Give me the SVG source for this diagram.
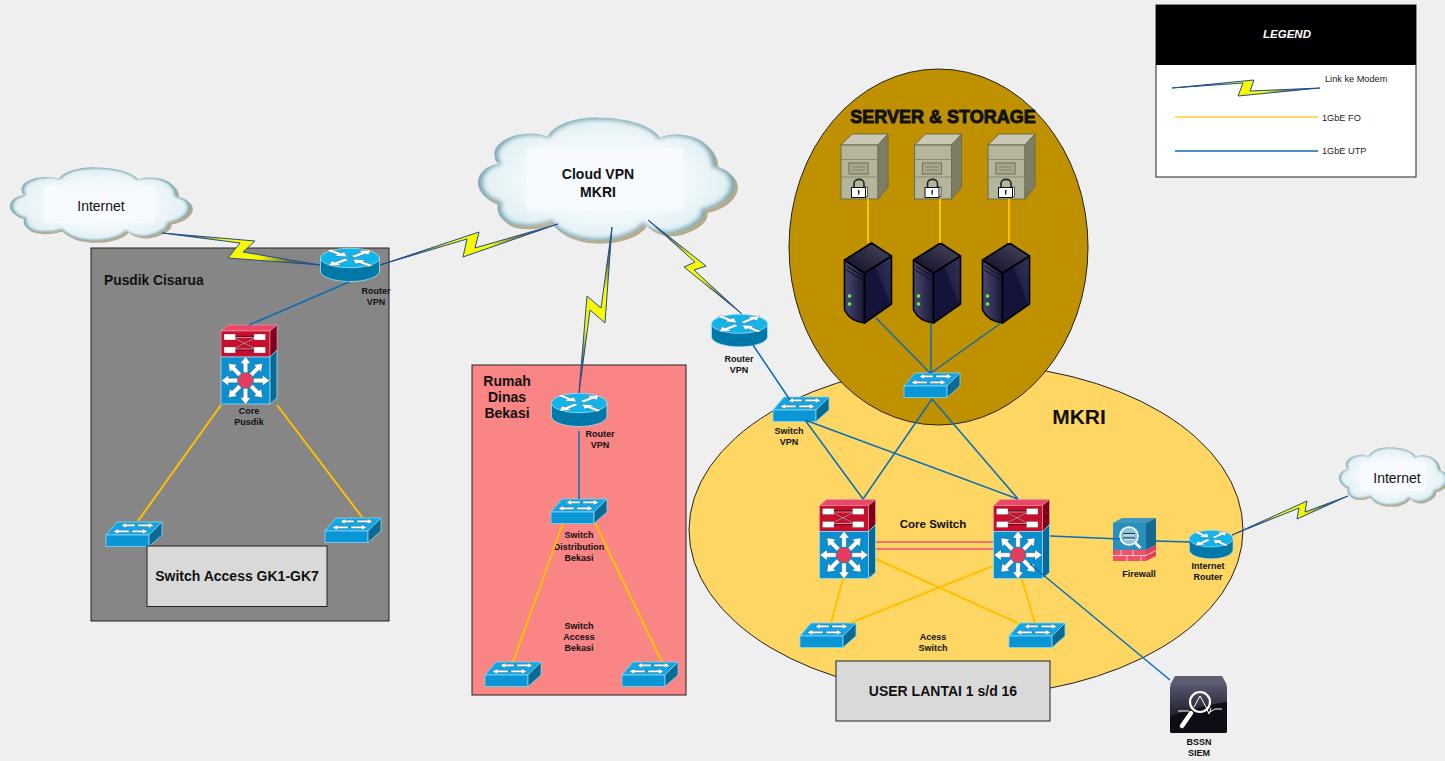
<svg xmlns="http://www.w3.org/2000/svg" xmlns:xlink="http://www.w3.org/1999/xlink" width="1445" height="761" viewBox="0 0 1445 761">
<style>
text{font-family:"Liberation Sans",Arial,sans-serif;fill:#111}
.s{font-size:9px;font-weight:bold;text-anchor:middle}
.m{font-size:14px;font-weight:bold;text-anchor:middle}
.r{font-size:14px;text-anchor:middle}
.l{font-size:9.2px;fill:#222}
.utp{stroke:#0a6db5;stroke-width:1.5;fill:none}
.fo{stroke:#ffc000;stroke-width:2;fill:none}
.core{stroke:#f0507a;stroke-width:1.5;fill:none}
.bolt{stroke:#1f4f8f;stroke-width:1;stroke-linejoin:miter}
.box{stroke:#222;stroke-width:1}
.a{fill:#fff;stroke:#222;stroke-width:.25}
</style>
<defs>
<linearGradient id="gh" x1="0" y1="0" x2="1" y2="0"><stop offset="0" stop-color="#1f4f8f"/><stop offset=".2" stop-color="#6f6f30"/><stop offset=".38" stop-color="#f8f800"/><stop offset=".62" stop-color="#f8f800"/><stop offset=".8" stop-color="#6f6f30"/><stop offset="1" stop-color="#1f4f8f"/></linearGradient>
<linearGradient id="gv" x1="0" y1="0" x2="0" y2="1"><stop offset="0" stop-color="#1f4f8f"/><stop offset=".2" stop-color="#6f6f30"/><stop offset=".38" stop-color="#f8f800"/><stop offset=".62" stop-color="#f8f800"/><stop offset=".8" stop-color="#6f6f30"/><stop offset="1" stop-color="#1f4f8f"/></linearGradient>
<linearGradient id="gd" x1="0" y1="0" x2="1" y2="1"><stop offset="0" stop-color="#1f4f8f"/><stop offset=".22" stop-color="#6f6f30"/><stop offset=".4" stop-color="#f8f800"/><stop offset=".6" stop-color="#f8f800"/><stop offset=".8" stop-color="#6f6f30"/><stop offset="1" stop-color="#1f4f8f"/></linearGradient>
<radialGradient id="cl" cx=".5" cy=".5" r=".62"><stop offset="0" stop-color="#f8fcff"/><stop offset=".55" stop-color="#f0f8fb"/><stop offset="1" stop-color="#d6e9f0"/></radialGradient>
<filter id="bl" x="-10%" y="-10%" width="120%" height="120%"><feGaussianBlur stdDeviation="6"/></filter>
<linearGradient id="ttop" x1="0" y1="1" x2="1" y2="0"><stop offset="0" stop-color="#0e0c24"/><stop offset="1" stop-color="#4a4960"/></linearGradient>
<linearGradient id="tl" x1="0" y1="0" x2="1" y2="0"><stop offset="0" stop-color="#4a4a70"/><stop offset="1" stop-color="#191838"/></linearGradient>
<linearGradient id="tr" x1="0" y1="1" x2="1" y2="0"><stop offset=".6" stop-color="#15133a"/><stop offset=".64" stop-color="#232248"/><stop offset="1" stop-color="#33325a"/></linearGradient>
<linearGradient id="sm" x1="0" y1="0" x2="0" y2="1"><stop offset="0" stop-color="#55566c"/><stop offset=".5" stop-color="#2a2b3a"/><stop offset="1" stop-color="#0e0e18"/></linearGradient>
<path id="cp" d="M75,140 C65,105 115,72 170,70 C195,68 215,72 232,78 C255,40 320,20 385,22 C470,22 545,45 567,82 C590,70 625,70 660,78 C705,90 735,125 733,168 C770,175 795,200 790,228 C785,262 745,290 700,298 C705,325 670,350 620,365 C585,375 535,360 520,338 C500,370 440,390 380,390 C320,390 265,370 240,332 C200,350 150,350 120,340 C90,325 78,305 85,275 C50,268 25,245 25,215 C25,190 50,165 85,160 C80,155 75,148 75,140 Z"/>
<symbol id="cloud" viewBox="25 20 775 380" preserveAspectRatio="none">
<use href="#cp" transform="translate(9,9)" fill="#b5a98a"/>
<use href="#cp" fill="#7fa9b4"/>
<use href="#cp" transform="translate(410,205) scale(.965) translate(-410,-205)" fill="url(#cl)" filter="url(#bl)"/>
<rect x="170" y="112" width="467" height="188" fill="#f7fbff" opacity=".9"/>
</symbol>
<polygon id="ao" class="a" points="-2.4,-4 2.4,-4 2.4,-17 6.5,-17 0,-27 -6.5,-17 -2.4,-17"/>
<polygon id="ai" class="a" points="-2.4,-27 2.4,-27 2.4,-14 6.5,-14 0,-4 -6.5,-14 -2.4,-14"/>
<g id="router">
<path d="M.5,10 V23 C.5,29 14,33.5 30,33.5 S59.5,29 59.5,23 V10 Z" fill="#0078a8" stroke="#a5e3f5" stroke-width=".8"/>
<ellipse cx="30" cy="10" rx="29.5" ry="9.7" fill="#12b4ea" stroke="#a5e3f5" stroke-width=".8"/>
<g transform="translate(30,10) scale(1.1,.42)">
<use href="#ao" transform="rotate(45)"/><use href="#ai" transform="rotate(135)"/><use href="#ao" transform="rotate(225)"/><use href="#ai" transform="rotate(315)"/>
</g>
</g>
<polygon id="sa" class="a" points="0,-1.1 10.5,-1.1 10.5,-2.6 16,0 10.5,2.6 10.5,1.1 0,1.1"/>
<g id="switch">
<polygon points="0,13 11,0 56,0 43,13" fill="#12a6e5" stroke="#7fd8f8" stroke-width=".8"/>
<rect x="0" y="13" width="43" height="11.5" fill="#0a95d5" stroke="#7fd8f8" stroke-width=".8"/>
<polygon points="43,13 56,0 56,13 43,24.5" fill="#0b6a94" stroke="#7fd8f8" stroke-width=".8"/>
<use href="#sa" transform="translate(32,3.4)"/><use href="#sa" transform="translate(29,3.4) scale(-.85,1)"/>
<use href="#sa" transform="translate(26,9.4)"/><use href="#sa" transform="translate(23,9.4) scale(-1,1)"/>
</g>
<polygon id="ca" class="a" points="-2.2,-8 2.2,-8 2.2,-17 5.2,-17 0,-24 -5.2,-17 -2.2,-17"/>
<g id="core">
<polygon points="0,6 7,0 56,0 49,6" fill="#e8486a" stroke="#f59ab0" stroke-width=".6"/>
<rect x="0" y="6" width="49" height="26" fill="#c8102e" stroke="#f59ab0" stroke-width=".6"/>
<polygon points="49,6 56,0 56,25 49,32" fill="#7d0018" stroke="#f59ab0" stroke-width=".6"/>
<path d="M14,11.5 H33 M14,25 H33 M14,12 L33,24.5 M14,24.5 L33,12" stroke="#6d0a1c" stroke-width="1.3" fill="none"/>
<path d="M14,12.5 H33 M14,24 H33 M14,13 L33,23.5 M14,23.5 L33,13" stroke="#fff" stroke-width=".5" fill="none"/>
<g fill="#fff" stroke="#444" stroke-width=".3"><rect x="3" y="9" width="11.5" height="6"/><rect x="33" y="9" width="11.5" height="6"/><rect x="3" y="22" width="11.5" height="6"/><rect x="33" y="22" width="11.5" height="6"/></g>
<rect x="0" y="32" width="49" height="47" fill="#0a8fd0" stroke="#8fdcf8" stroke-width=".8"/>
<polygon points="49,32 56,25 56,73 49,79" fill="#0b6a94" stroke="#8fdcf8" stroke-width=".8"/>
<g transform="translate(24.5,55.5)">
<use href="#ca"/><use href="#ca" transform="rotate(45)"/><use href="#ca" transform="rotate(90)"/><use href="#ca" transform="rotate(135)"/><use href="#ca" transform="rotate(180)"/><use href="#ca" transform="rotate(225)"/><use href="#ca" transform="rotate(270)"/><use href="#ca" transform="rotate(315)"/>
<circle r="7.5" fill="#e63d5e"/>
</g>
</g>
<g id="vault">
<polygon points="0,11 11,0 47,0 37,11" fill="#c8c8b5" stroke="#6c6c50"/>
<rect x="0" y="11" width="37" height="54" fill="#b5b59b" stroke="#6c6c50"/>
<polygon points="37,11 47,0 47,53 37,65" fill="#7e7e64" stroke="#6c6c50"/>
<path d="M0,25.5 H37 M0,43 H37" stroke="#8a8a70" stroke-width="1.2"/>
<rect x="8" y="29" width="19" height="11" fill="#a8a890" stroke="#77775e" stroke-width="1.2"/>
<path d="M11,33 H24 M11,36 H24" stroke="#77775e" stroke-width=".7"/>
<path d="M13,54 V49.5 C13,44 23,44 23,49.5 V54" fill="none" stroke="#222" stroke-width="1.6"/>
<rect x="24" y="53" width="2.5" height="9.5" fill="#fff" stroke="#222" stroke-width=".7"/>
<rect x="10.5" y="53.5" width="14" height="10" fill="#fff" stroke="#111" stroke-width="1"/>
<rect x="17" y="56" width="1.4" height="4.5" fill="#111"/>
</g>
<g id="tower">
<path d="M0,17 L20,30 V80 C11,79 4,75 0,67 Z" fill="url(#tl)" stroke="#000" stroke-width="1.6" stroke-linejoin="round"/>
<polygon points="20,30 47,13 47,61 20,80" fill="url(#tr)" stroke="#000" stroke-width="1.6" stroke-linejoin="round"/>
<polygon points="0,17 27,0 47,13 20,30" fill="url(#ttop)" stroke="#000" stroke-width="1.6" stroke-linejoin="round"/>
<path d="M2,23 L18,33 M2,27 L18,37" stroke="#0a0a18" stroke-width="1" fill="none"/>
<circle cx="5" cy="53" r="2.300" fill="#6ce06c" stroke="#223" stroke-width=".6"/><circle cx="5" cy="61" r="2.300" fill="#6ce06c" stroke="#223" stroke-width=".6"/>
</g>
</defs>

<rect id="background" width="1445" height="761" fill="#efefef"/>

<g id="region-pusdik"><rect class="box" x="91" y="248" width="298" height="373" fill="#868686"/>
<text x="104" y="285" style="font-size:13.8px;font-weight:bold">Pusdik Cisarua</text></g>
<g id="region-rumah"><rect class="box" x="472" y="365" width="214" height="330" fill="#f98585"/>
<text class="m" x="507" y="386">Rumah</text><text class="m" x="507" y="402">Dinas</text><text class="m" x="507" y="418">Bekasi</text></g>
<g id="region-mkri"><ellipse class="box" cx="966" cy="530" rx="277" ry="166" fill="#fed664"/>
<text x="1079" y="424" text-anchor="middle" style="font-size:21px;font-weight:bold">MKRI</text></g>
<g id="region-server"><ellipse class="box" cx="938.5" cy="247" rx="149.5" ry="178" fill="#bf9000"/>
<text x="943" y="123" text-anchor="middle" style="font-size:18px;font-weight:bold;stroke:#111;stroke-width:.9">SERVER &amp; STORAGE</text></g>

<g id="cloud-internet-left"><use href="#cloud" x="10" y="167" width="183" height="76"/><text class="r" x="101" y="211">Internet</text></g>
<g id="cloud-vpn"><use href="#cloud" x="478" y="117" width="260" height="127"/><text class="m" x="598" y="179">Cloud VPN</text><text class="m" x="598" y="197">MKRI</text></g>
<g id="cloud-internet-right"><use href="#cloud" x="1339" y="447" width="110" height="60"/><text class="r" x="1397" y="483">Internet</text></g>

<g id="router-pusdik"><use href="#router" transform="translate(320,248)"/><text class="s" x="376" y="294">Router</text><text class="s" x="376" y="305">VPN</text></g>
<g id="core-pusdik"><use href="#core" transform="translate(221,325)"/><text class="s" x="249" y="414">Core</text><text class="s" x="249" y="425">Pusdik</text></g>
<g id="switch-pusdik-left"><use href="#switch" transform="translate(106,522)"/></g>
<g id="switch-pusdik-right"><use href="#switch" transform="translate(325,518)"/></g>
<g id="box-access"><rect class="box" x="147" y="546" width="180" height="60.500" fill="#d9d9d9"/><text class="m" x="237" y="581">Switch Access GK1-GK7</text></g>

<g id="router-rumah"><use href="#router" transform="translate(551,393) scale(.94,1)"/><text class="s" x="600" y="437">Router</text><text class="s" x="600" y="448">VPN</text></g>
<g id="switch-rumah-dist"><use href="#switch" transform="translate(551,499)"/><text class="s" x="579" y="538">Switch</text><text class="s" x="579" y="549.500">Distribution</text><text class="s" x="579" y="561">Bekasi</text></g>
<g id="switch-rumah-left"><use href="#switch" transform="translate(485,662)"/><text class="s" x="579" y="629">Switch</text><text class="s" x="579" y="640">Access</text><text class="s" x="579" y="651">Bekasi</text></g>
<g id="switch-rumah-right"><use href="#switch" transform="translate(622,662)"/></g>

<g id="router-mkri"><use href="#router" transform="translate(711,314) scale(.95,.98)"/><text class="s" x="739" y="362">Router</text><text class="s" x="739" y="373">VPN</text></g>
<g id="switch-vpn"><use href="#switch" transform="translate(773,397)"/><text class="s" x="789" y="434">Switch</text><text class="s" x="789" y="445">VPN</text></g>
<g id="switch-server"><use href="#switch" transform="translate(904,373)"/></g>
<g id="vault-1"><use href="#vault" transform="translate(841,134)"/></g>
<g id="vault-2"><use href="#vault" transform="translate(914.500,134)"/></g>
<g id="vault-3"><use href="#vault" transform="translate(988,134)"/></g>
<g id="server-1"><use href="#tower" transform="translate(844.500,243)"/></g>
<g id="server-2"><use href="#tower" transform="translate(913.500,243)"/></g>
<g id="server-3"><use href="#tower" transform="translate(982.500,243)"/></g>
<g id="core-left"><use href="#core" transform="translate(819.500,499.500)"/></g>
<g id="core-right"><use href="#core" transform="translate(993.500,499.500)"/><text x="933" y="528" text-anchor="middle" style="font-size:11.500px;font-weight:bold">Core Switch</text></g>
<g id="switch-access-left"><use href="#switch" transform="translate(800,623)"/><text class="s" x="933" y="640">Acess</text><text class="s" x="933" y="651">Switch</text></g>
<g id="switch-access-right"><use href="#switch" transform="translate(1009,623)"/></g>
<g id="box-user"><rect class="box" x="836" y="661" width="214" height="60" fill="#d9d9d9"/><text class="m" x="943" y="696">USER LANTAI 1 s/d 16</text></g>
<g id="firewall"><g transform="translate(1113,518)">
<polygon points="0,5 9,0 43,0 33,5" fill="#3f97c0"/>
<rect x="0" y="5" width="33" height="27" fill="#2a8fbd"/>
<polygon points="33,5 43,0 43,27 33,32" fill="#136a92"/>
<rect x="0" y="32" width="33" height="11" fill="#f0506a"/>
<polygon points="33,32 43,27 43,38 33,43" fill="#e0405a"/>
<path d="M0,37.500 H33 M8,32 V37.500 M20,32 V37.500 M28,37.500 V43 M14,37.500 V43 M33,37.500 L43,32.500" stroke="#fff" stroke-width=".7" fill="none"/>
<line x1="22.500" y1="25" x2="27.500" y2="30" stroke="#fff" stroke-width="2.600"/>
<circle cx="16" cy="18" r="9" fill="#8cc4dc" stroke="#fff" stroke-width="1.600"/>
<path d="M10,15.500 H22 M10,20 H22" stroke="#111" stroke-width=".8"/>
<path d="M11,17 H21 M11,21.500 H21" stroke="#fff" stroke-width=".7"/>
</g><text class="s" x="1139" y="577">Firewall</text></g>
<g id="router-internet"><use href="#router" transform="translate(1189,530) scale(.74,.86)"/><text class="s" x="1208" y="569">Internet</text><text class="s" x="1208" y="580">Router</text></g>
<g id="siem"><g transform="translate(1170,676)">
<polygon points="0,9 5,0 52,0 57,9" fill="#5b5c70"/>
<rect x="0" y="9" width="57" height="48" rx="2" fill="url(#sm)"/>
<path d="M0,40 C15,36 30,30 57,26 V55 C57,56 56,57 55,57 H2 C1,57 0,56 0,55 Z" fill="#0d0d16"/>
<path d="M8,35 H19 M40,36 L45,33 H52" stroke="#fff" stroke-width="1" fill="none"/>
<circle cx="30" cy="26" r="10" fill="none" stroke="#fff" stroke-width="2.200"/>
<path d="M24,31 L30,20 L36,31 L39,38 L41,32" stroke="#fff" stroke-width="1" fill="none"/>
<line x1="21" y1="37" x2="12" y2="50" stroke="#fff" stroke-width="4.500" stroke-linecap="round"/>
</g><text class="s" x="1199" y="745">BSSN</text><text class="s" x="1199" y="756">SIEM</text></g>

<g id="legend">
<rect x="1156" y="5" width="260" height="172" fill="#fff" stroke="#222"/>
<rect x="1156" y="5" width="260" height="60" fill="#000"/>
<text x="1287" y="38" text-anchor="middle" style="font-size:11.500px;font-weight:bold;font-style:italic;fill:#fff">LEGEND</text>
<polygon class="bolt" fill="url(#gh)" points="1172,88 1254,80 1250,91 1320,88 1238,96 1243,83"/>
<line x1="1175" y1="117" x2="1318" y2="117" stroke="#ffcb3d" stroke-width="1.600"/>
<line x1="1175" y1="151" x2="1318" y2="151" stroke="#0a6db5" stroke-width="1.400"/>
<text class="l" x="1325" y="82">Link ke Modem</text>
<text class="l" x="1322" y="121">1GbE FO</text>
<text class="l" x="1322" y="154">1GbE UTP</text>
</g>

<g id="connectors">
<polygon class="bolt" fill="url(#gh)" points="162,233 255,241 243,252 320,265 228,258 240,243"/>
<polygon class="bolt" fill="url(#gh)" points="380,265 479,232 475,248 558,224 463,257 467,239"/>
<polygon class="bolt" fill="url(#gv)" points="612,227 605,323 590,310 579,393 587,296 601,308"/>
<polygon class="bolt" fill="url(#gd)" points="648,220 706,266 694,270 742,314 684,267 695,262"/>
<polygon class="bolt" fill="url(#gh)" points="1232,535 1307,501 1305,512 1348,496 1297,519 1299,508"/>
<path class="utp" d="M349,282 L249,325 M579,431 V499 M753,345 L790,400 M876,318 L930,373 M931,323 V373 M1001,323 L931,373 M932,399 L863,499 M932,399 L1018,499 M805,420 L863,499 M805,420 L1018,499 M1050,536 L1120,539 M1156,541 L1190,542 M1030,564 L1170,680"/>
<path class="fo" d="M221,405 L138,521 M277,405 L362,517 M563,523 L513,662 M595,523 L662,662 M868,199 V243 M940,199 V243 M1009,199 V243 M843,579 L831,623 M1022,579 L1035,623 M876,559 L1018,623 M993,566 L850,623"/>
<path class="core" d="M876,542 H993 M876,549 H993"/>
</g>
</svg>
